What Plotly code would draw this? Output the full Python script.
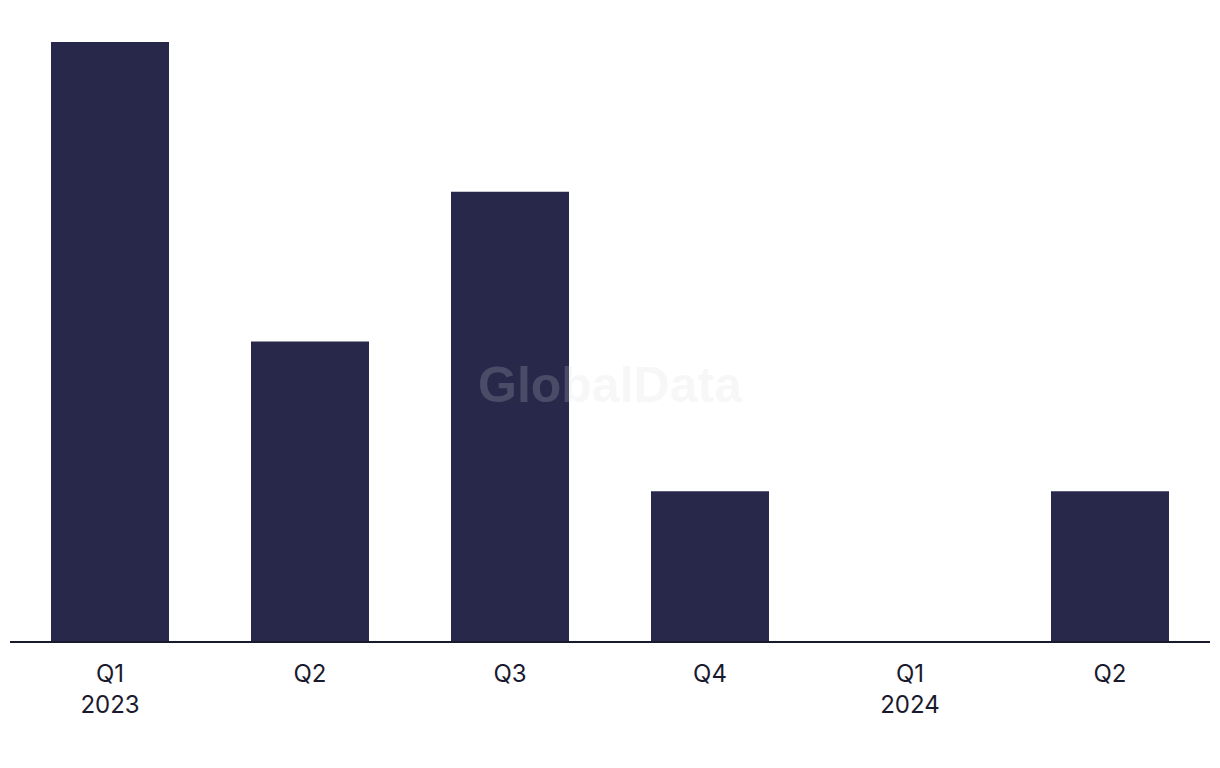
import plotly.graph_objects as go

categories = ["Q1<br>2023", "Q2", "Q3", "Q4", "Q1<br>2024", "Q2"]
values = [4, 2, 3, 1, 0, 1]
positions = list(range(len(categories)))

bar_color = "#27284A"

fig = go.Figure()
fig.add_trace(go.Bar(
    x=positions, y=values,
    marker=dict(color=bar_color, line=dict(width=0)),
    width=0.59,
    hoverinfo="skip",
))

fig.update_layout(
    width=1220, height=768,
    margin=dict(l=2, r=18, t=34, b=135, autoexpand=False),
    paper_bgcolor="white", plot_bgcolor="white",
    showlegend=False,
    xaxis=dict(
        range=[-0.5, len(categories) - 0.5], automargin=False,
        tickmode="array", tickvals=positions, ticktext=categories,
        showgrid=False, zeroline=False,
        showline=True, linecolor="#1a1a2e", linewidth=2,
        ticks="outside", ticklen=10, tickcolor="rgba(0,0,0,0)",
        tickfont=dict(family="Inter, Liberation Sans, Arial", size=24, color="#1a1a2e"),
    ),
    yaxis=dict(
        range=[0, 4], showgrid=False, zeroline=False, showline=False,
        showticklabels=False, ticks="", automargin=False,
    ),
    annotations=[dict(
        text="<b>GlobalData</b>", x=0.5, y=0.427, xref="paper", yref="paper",
        showarrow=False, xanchor="center", yanchor="middle",
        font=dict(family="Liberation Sans, Arial", size=50, color="rgba(214,214,214,0.2)"),
    )],
)

fig.write_html("out.html")
